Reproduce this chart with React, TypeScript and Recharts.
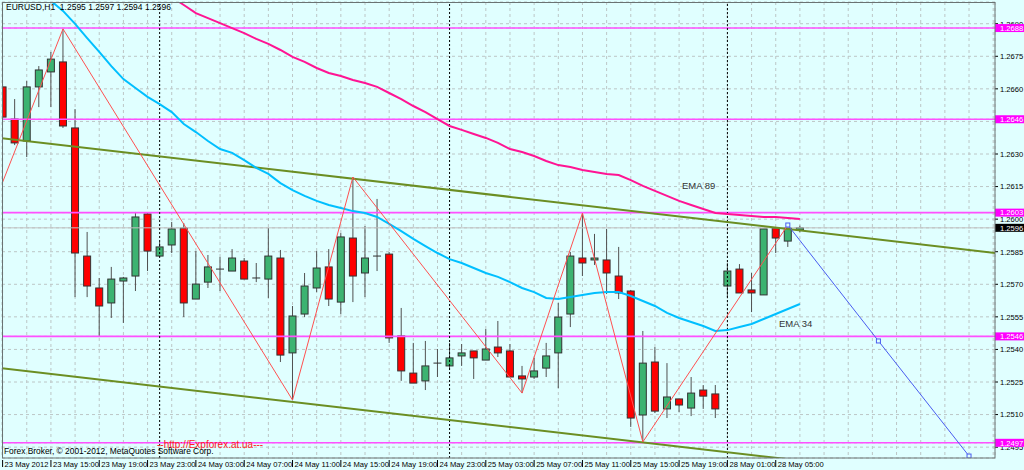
import React from 'react';
import { ComposedChart, XAxis, YAxis, CartesianGrid, Bar, Line, ReferenceLine } from 'recharts';

const FONT = '"Liberation Sans", Arial, sans-serif';

// ---- candle data (EURUSD H1), bar index 0 = 23 May 2012 11:00 ----
const OPEN = [
  1.26609, 1.26461, 1.26360, 1.26609, 1.26678, 1.26724, 1.26420, 1.25830, 1.25683, 1.25614,
  1.25715, 1.25738, 1.26024, 1.25830, 1.25881, 1.25959, 1.25632, 1.25710, 1.25770, 1.25761,
  1.25807, 1.25729, 1.25724, 1.25821, 1.25384, 1.25563, 1.25683, 1.25780, 1.25618, 1.25913,
  1.25752, 1.25830, 1.25839, 1.25462, 1.25291, 1.25255, 1.25337, 1.25324, 1.25370, 1.25393,
  1.25351, 1.25411, 1.25393, 1.25278, 1.25273, 1.25314, 1.25384, 1.25563, 1.25821, 1.25812,
  1.25812, 1.25738, 1.25669, 1.25098, 1.25342, 1.25126, 1.25172, 1.25130, 1.25213, 1.25195,
  1.25692, 1.25770, 1.25674, 1.25651, 1.25959, 1.25899, 1.25950,
];
const HIGH = [
  1.26622, 1.26553, 1.26636, 1.26705, 1.26770, 1.26876, 1.26507, 1.25941, 1.25729, 1.25780,
  1.25734, 1.26033, 1.26028, 1.25895, 1.25987, 1.25982, 1.25853, 1.25835, 1.25826, 1.25862,
  1.25821, 1.25798, 1.25959, 1.25858, 1.25600, 1.25752, 1.25853, 1.25862, 1.25936, 1.26194,
  1.25968, 1.26093, 1.25849, 1.25591, 1.25430, 1.25439, 1.25402, 1.25430, 1.25425, 1.25393,
  1.25494, 1.25531, 1.25425, 1.25324, 1.25361, 1.25430, 1.25614, 1.25849, 1.26028, 1.25932,
  1.25955, 1.25872, 1.25674, 1.25485, 1.25411, 1.25337, 1.25172, 1.25273, 1.25236, 1.25236,
  1.25798, 1.25793, 1.25752, 1.25955, 1.25959, 1.25973, 1.25970,
];
const LOW = [
  1.26457, 1.26341, 1.26286, 1.26516, 1.26516, 1.26420, 1.25641, 1.25641, 1.25457, 1.25545,
  1.25522, 1.25669, 1.25761, 1.25826, 1.25844, 1.25549, 1.25632, 1.25683, 1.25669, 1.25761,
  1.25724, 1.25710, 1.25637, 1.25342, 1.25167, 1.25549, 1.25664, 1.25600, 1.25563, 1.25618,
  1.25641, 1.25761, 1.25430, 1.25255, 1.25245, 1.25213, 1.25273, 1.25305, 1.25324, 1.25264,
  1.25351, 1.25365, 1.25273, 1.25199, 1.25264, 1.25273, 1.25222, 1.25503, 1.25738, 1.25789,
  1.25655, 1.25632, 1.25043, 1.24974, 1.25107, 1.25084, 1.25112, 1.25093, 1.25126, 1.25084,
  1.25641, 1.25660, 1.25572, 1.25651, 1.25844, 1.25872, 1.25940,
];
const CLOSE = [
  1.26470, 1.26351, 1.26609, 1.26687, 1.26737, 1.26429, 1.25844, 1.25692, 1.25600, 1.25724,
  1.25729, 1.26010, 1.25853, 1.25872, 1.25955, 1.25614, 1.25701, 1.25780, 1.25770, 1.25821,
  1.25724, 1.25729, 1.25830, 1.25374, 1.25554, 1.25692, 1.25775, 1.25632, 1.25918, 1.25738,
  1.25821, 1.25830, 1.25453, 1.25301, 1.25245, 1.25324, 1.25337, 1.25361, 1.25384, 1.25361,
  1.25402, 1.25384, 1.25273, 1.25264, 1.25301, 1.25370, 1.25549, 1.25830, 1.25798, 1.25821,
  1.25752, 1.25660, 1.25084, 1.25337, 1.25116, 1.25181, 1.25144, 1.25199, 1.25185, 1.25126,
  1.25761, 1.25660, 1.25660, 1.25955, 1.25913, 1.25959, 1.25960,
];

// ---- moving averages ----
const EMA34 = [
  1.27184, 1.27143, 1.27101, 1.27051, 1.27005, 1.26959, 1.26899, 1.26834, 1.26770, 1.26705,
  1.26645, 1.26604, 1.26563, 1.26530, 1.26493, 1.26438, 1.26401, 1.26360, 1.26323, 1.26305,
  1.26272, 1.26236, 1.26208, 1.26166, 1.26134, 1.26107, 1.26084, 1.26065, 1.26051, 1.26037,
  1.26028, 1.26010, 1.25978, 1.25945, 1.25909, 1.25876, 1.25844, 1.25816, 1.25798, 1.25775,
  1.25752, 1.25734, 1.25710, 1.25683, 1.25664, 1.25637, 1.25632, 1.25641, 1.25651, 1.25660,
  1.25664, 1.25664, 1.25646, 1.25623, 1.25600, 1.25568, 1.25545, 1.25526, 1.25508, 1.25485,
  1.25489, 1.25503, 1.25517, 1.25540, 1.25563, 1.25586, 1.25609,
];
const EMA89: (number | null)[] = [
  null, null, null, null, null, null, null, null, null, null,
  null, null, null, 1.27060, 1.27023, 1.26986, 1.26949, 1.26926, 1.26903, 1.26880,
  1.26857, 1.26830, 1.26807, 1.26779, 1.26747, 1.26724, 1.26696, 1.26673, 1.26659, 1.26641,
  1.26627, 1.26609, 1.26581, 1.26553, 1.26521, 1.26493, 1.26461, 1.26429, 1.26411, 1.26392,
  1.26374, 1.26351, 1.26323, 1.26309, 1.26291, 1.26268, 1.26249, 1.26240, 1.26226, 1.26217,
  1.26208, 1.26203, 1.26180, 1.26153, 1.26130, 1.26107, 1.26084, 1.26065, 1.26047, 1.26028,
  1.26024, 1.26019, 1.26015, 1.26010, 1.26010, 1.26005, 1.26001,
];

// ---- drawn objects ----
const ZIGZAG_BAR = [-1, 5, 24, 29, 43, 48, 53, 65];
const ZIGZAG_PRICE = [1.26029, 1.26876, 1.25167, 1.26194, 1.25199, 1.26028, 1.24974, 1.25973];
const PROJ_BAR = [65, 72.5, 80];
const PROJ_PRICE = [1.25973, 1.25439, 1.24909];
const CHANNEL_BAR = [-1, 83];
const CHANNEL_UPPER = [1.26379, 1.25839];
const CHANNEL_LOWER = [1.25319, 1.24779];
const LEVELS = [1.2688, 1.2646, 1.2603, 1.2546, 1.2497];
const CURRENT_PRICE = 1.2596;
const DAY_BREAK_BARS = [13, 37, 60];

// ---- axes ----
const TIME_LABELS = [
  '23 May 2012', '23 May 15:00', '23 May 19:00', '23 May 23:00', '24 May 03:00', '24 May 07:00',
  '24 May 11:00', '24 May 15:00', '24 May 19:00', '24 May 23:00', '25 May 03:00', '25 May 07:00',
  '25 May 11:00', '25 May 15:00', '25 May 19:00', '28 May 01:00', '28 May 05:00',
];
const LABEL_STEP = 4;
const GRID_STEP = 2;
const PRICE_TICKS = [
  1.2495, 1.2510, 1.2525, 1.2540, 1.2555, 1.2570, 1.2585, 1.2600, 1.2615, 1.2630, 1.2645, 1.2660, 1.2675, 1.2690,
];
const X_DOMAIN: [number, number] = [-0.05, 82.15];
const Y_DOMAIN: [number, number] = [1.2490, 1.2700];

const GRID_BARS = Array.from({ length: Math.floor(X_DOMAIN[1] / GRID_STEP) + 1 }, (_, k) => k * GRID_STEP);

const candles = OPEN.map((o, i) => ({
  i,
  open: o,
  high: HIGH[i],
  low: LOW[i],
  close: CLOSE[i],
  range: [LOW[i], HIGH[i]],
  ema34: EMA34[i],
  ema89: EMA89[i],
}));
const zigzag = ZIGZAG_BAR.map((b, k) => ({ i: b, v: ZIGZAG_PRICE[k] }));
const projection = PROJ_BAR.map((b, k) => ({ i: b, v: PROJ_PRICE[k] }));
const upperChannel = CHANNEL_BAR.map((b, k) => ({ i: b, v: CHANNEL_UPPER[k] }));
const lowerChannel = CHANNEL_BAR.map((b, k) => ({ i: b, v: CHANNEL_LOWER[k] }));

const last = OPEN.length - 1;
const TITLE = `EURUSD,H1  ${OPEN[last].toFixed(4)} ${HIGH[last].toFixed(4)} ${LOW[last].toFixed(4)} ${CLOSE[last].toFixed(4)}`;

const BG = '#E0FFFF';

const Candle = (props: any) => {
  const { x, y, width, height } = props;
  const p = props.payload || props;
  if (x == null || y == null || !p || p.high == null) return <g />;
  const cx = x + width / 2;
  const span = p.high - p.low;
  const k = span > 0 ? height / span : 0;
  const yO = y + (p.high - p.open) * k;
  const yC = y + (p.high - p.close) * k;
  const top = Math.min(yO, yC);
  const bot = Math.max(yO, yC);
  const up = p.close >= p.open;
  const bodyH = bot - top;
  return (
    <g>
      <line x1={cx} x2={cx} y1={y} y2={y + height} stroke="#505050" strokeWidth={1} />
      {bodyH < 1.2 ? (
        <line x1={cx - 4} x2={cx + 4} y1={top} y2={top} stroke="#303030" strokeWidth={1} />
      ) : (
        <rect x={cx - 3.5} y={top} width={7} height={bodyH} fill={up ? '#3CB371' : '#FF0000'} stroke="#333333" strokeWidth={1} />
      )}
    </g>
  );
};

const XTick = (props: any) => {
  const { x, y, payload } = props;
  const bar = payload?.value;
  if (bar == null || bar % LABEL_STEP !== 0) return <g />;
  const label = TIME_LABELS[bar / LABEL_STEP];
  if (!label) return <g />;
  return (
    <g>
      <line x1={x} x2={x} y1={y + 2} y2={y + 9} stroke="#000" strokeWidth={1} />
      <text x={x + 2} y={y + 9} fontSize={7.6} fill="#000" fontFamily={FONT}>{label}</text>
    </g>
  );
};

const YTick = (props: any) => {
  const { x, y, payload } = props;
  const v = payload?.value;
  if (v == null) return <g />;
  const txt = Number(v).toFixed(4);
  const isLevel = LEVELS.includes(v);
  const isCur = v === CURRENT_PRICE;
  if (isLevel || isCur) {
    return (
      <g>
        <rect x={x - 5} y={y - 4} width={30} height={8} fill={isCur ? '#000000' : '#FF00FF'} />
        <text x={x} y={y + 2.8} fontSize={7.6} fill="#FFFFFF" fontFamily={FONT}>{txt}</text>
      </g>
    );
  }
  // a plain tick label fully hidden under a highlighted price box is not drawn
  const hidden = LEVELS.some((lv) => Math.abs(lv - v) < 0.00015);
  if (hidden) return <g />;
  return <text x={x} y={y + 2.8} fontSize={7.6} fill="#000" fontFamily={FONT}>{txt}</text>;
};

const SquareDot = (props: any) => {
  const { cx, cy, index } = props;
  if (cx == null || cy == null) return <g key={`sq-${index}`} />;
  return <rect key={`sq-${index}`} x={cx - 2} y={cy - 2} width={4} height={4} fill={BG} stroke="#4A5CF0" strokeWidth={1} />;
};

export default function App() {
  return (
    <div style={{ position: 'absolute', left: 0, top: 0, width: 1024, height: 470, background: BG, overflow: 'hidden' }}>
      <ComposedChart width={1024} height={470} data={candles} margin={{ top: 2, right: 0, bottom: 0, left: 2 }}>
        <CartesianGrid stroke="#BCC6C6" strokeDasharray="3 3" />
        <XAxis
          dataKey="i"
          type="number"
          domain={X_DOMAIN}
          allowDataOverflow
          ticks={GRID_BARS}
          interval={0}
          tick={XTick}
          tickLine={false}
          axisLine={false}
          tickSize={0}
          tickMargin={0}
          height={12}
        />
        <YAxis
          orientation="right"
          type="number"
          domain={Y_DOMAIN}
          allowDataOverflow
          ticks={[...PRICE_TICKS, ...LEVELS, CURRENT_PRICE]}
          interval={0}
          tick={YTick}
          tickSize={3}
          tickMargin={2}
          tickLine={{ stroke: '#000' }}
          axisLine={false}
          width={29}
        />
        {LEVELS.map((lv) => (
          <ReferenceLine key={`lv-${lv}`} y={lv} stroke="#FF50FF" strokeWidth={1.6} />
        ))}
        <ReferenceLine y={CURRENT_PRICE} stroke="#C0C0C0" strokeWidth={1} />
        {DAY_BREAK_BARS.map((b) => (
          <ReferenceLine key={`db-${b}`} x={b} stroke="#000" strokeDasharray="2 2" strokeWidth={1} />
        ))}
        <Line data={upperChannel} dataKey="v" stroke="#6B8E23" strokeWidth={2} dot={false} activeDot={false} isAnimationActive={false} />
        <Line data={lowerChannel} dataKey="v" stroke="#6B8E23" strokeWidth={2} dot={false} activeDot={false} isAnimationActive={false} />
        <Line dataKey="ema89" stroke="#FF1493" strokeWidth={2} dot={false} activeDot={false} isAnimationActive={false} />
        <Line dataKey="ema34" stroke="#00BFFF" strokeWidth={2} dot={false} activeDot={false} isAnimationActive={false} />
        <Bar dataKey="range" barSize={8} shape={Candle} isAnimationActive={false} />
        <Line data={zigzag} dataKey="v" stroke="#FF5050" strokeWidth={1} dot={false} activeDot={false} isAnimationActive={false} />
        <Line data={projection} dataKey="v" stroke="#4A5CF0" strokeWidth={1} dot={SquareDot} activeDot={false} isAnimationActive={false} />
      </ComposedChart>
      <svg width={1024} height={470} style={{ position: 'absolute', left: 0, top: 0, pointerEvents: 'none' }}>
        <rect x={2.5} y={2.5} width={992.5} height={455.5} fill="none" stroke="#6A7373" strokeWidth={1} />
        <text x={6} y={10} fontSize={8.5} fill="#000" fontFamily={FONT} style={{ whiteSpace: 'pre' }}>{TITLE}</text>
        <text x={682} y={188.5} fontSize={9.5} fill="#333" fontFamily={FONT}>EMA 89</text>
        <text x={779} y={327} fontSize={9.5} fill="#333" fontFamily={FONT}>EMA 34</text>
        <text x={157} y={447.5} fontSize={10} fill="#FF2020" fontFamily={FONT}>--http://Expforex.at.ua---</text>
        <text x={4} y={454} fontSize={8.4} fill="#000" fontFamily={FONT}>Forex Broker, © 2001-2012, MetaQuotes Software Corp.</text>
      </svg>
    </div>
  );
}
